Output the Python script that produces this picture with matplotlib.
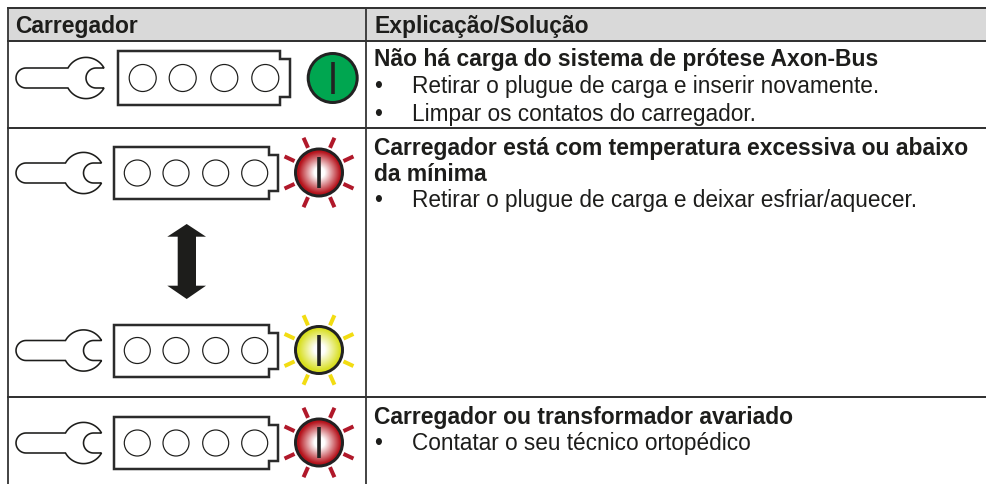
import numpy as np
import matplotlib
matplotlib.use("Agg")
import matplotlib.pyplot as plt
from matplotlib.patches import Circle, Polygon, Rectangle

plt.rcParams['font.family'] = ['Liberation Sans', 'DejaVu Sans']

headers = ["Carregador", "Explicação/Solução"]
bold_lines = [("Não há carga do sistema de prótese Axon-Bus", 57),
              ("Carregador está com temperatura excessiva ou abaixo", 146),
              ("da mínima", 172),
              ("Carregador ou transformador avariado", 415)]
bullet_lines = [("Retirar o plugue de carga e inserir novamente.", 84),
                ("Limpar os contatos do carregador.", 112),
                ("Retirar o plugue de carga e deixar esfriar/aquecer.", 198),
                ("Contatar o seu técnico ortopédico", 441)]
row_lines = [8, 40.5, 127.5, 397]
col_lines = [7.5, 366]

DARK = "#1d1d1b"
LINE = "#333333"
px = 0.72

fig = plt.figure(figsize=(9.87, 4.84), dpi=100, facecolor="white")
ax = fig.add_axes([0, 0, 1, 1])
ax.set_axis_off()

def wrench(cx, cy, left=16):
    t = np.radians(np.linspace(151, 29, 40))
    upper = np.c_[cx + 20.6*np.cos(t), cy - 20.6*np.sin(t)]
    t2 = np.radians(np.linspace(-29, -151, 40))
    lower = np.c_[cx + 20.6*np.cos(t2), cy - 20.6*np.sin(t2)]
    t3 = np.radians(np.linspace(90, 270, 24))
    jaw = np.c_[cx + 10 + 10*np.cos(t3), cy - 10*np.sin(t3)]
    t4 = np.radians(np.linspace(270, 90, 24))
    cap = np.c_[left + 10 + 10*np.cos(t4), cy - 10*np.sin(t4)]
    pts = np.vstack([upper, jaw, lower, cap])
    ax.add_patch(Polygon(pts, closed=True, fc="white", ec=DARK, lw=1.6*px, zorder=3))

def battery(x0, x1, xn, y0, y1, notch, centers, r):
    pts = [(x0, y0), (x1, y0), (x1, y0+notch), (xn, y0+notch),
           (xn, y1-notch), (x1, y1-notch), (x1, y1), (x0, y1)]
    ax.add_patch(Polygon(pts, closed=True, fc="white", ec="#2b2b2b", lw=2.5*px, zorder=3, joinstyle="miter"))
    cy = (y0 + y1)/2
    for c in centers:
        ax.add_patch(Circle((c, cy), r, fc="white", ec=DARK, lw=1.2*px, zorder=4))

def light(cx, cy, r, color, bar, rays=None):
    if rays:
        size = 200
        yy, xx = np.mgrid[-1:1:size*1j, -1:1:size*1j]
        d = np.clip(np.sqrt(xx**2 + yy**2), 0, 1)
        w = np.clip((d - 0.22)/0.68, 0, 1)[..., None]
        rgb = np.array(matplotlib.colors.to_rgb(color))
        img = (1 - w)*np.ones(3) + w*rgb
        im = ax.imshow(img, extent=(cx-r, cx+r, cy+r, cy-r), aspect="auto", zorder=4, interpolation="bilinear")
        im.set_clip_path(Circle((cx, cy), r, transform=ax.transData))
        ax.add_patch(Circle((cx, cy), r, fc="none", ec="#222222", lw=3*px, zorder=5))
        for a in [24, 65, 115, 156, -24, -65, -115, -156]:
            s, c = np.sin(np.radians(a)), np.cos(np.radians(a))
            ax.plot([cx + 27*s, cx + 38*s], [cy - 27*c, cy - 38*c], color=rays, lw=4*px,
                    solid_capstyle="butt", zorder=3)
    else:
        ax.add_patch(Circle((cx, cy), r, fc=color, ec="#222222", lw=3*px, zorder=5))
    ax.plot([cx, cx], [cy-bar, cy+bar], color="#222222", lw=3.6*px, solid_capstyle="butt", zorder=6)

# header band and rules
ax.add_patch(Rectangle((7.5, 8), 987-7.5, 32.5, fc="#d9d9d9", ec="none", zorder=0))
for y in row_lines:
    ax.plot([7, 987], [y, y], color=LINE, lw=2*px, zorder=1, solid_capstyle="butt")
for x in col_lines:
    ax.plot([x, x], [8, 484], color=LINE, lw=1.8*px, zorder=1, solid_capstyle="butt")

# text
BOLD = 16.5
BODY = 16.3
ax.text(15, 24.5, headers[0], fontsize=BOLD, fontweight="bold", color=DARK, va="center_baseline")
ax.text(374, 24.5, headers[1], fontsize=BOLD, fontweight="bold", color=DARK, va="center_baseline")
for s, y in bold_lines:
    ax.text(374, y, s, fontsize=BOLD, fontweight="bold", color=DARK, va="center_baseline")
for s, y in bullet_lines:
    ax.text(374, y, "•", fontsize=BODY, color=DARK, va="center_baseline")
    ax.text(412, y, s, fontsize=BODY, color=DARK, va="center_baseline")

# icons
wrench(86, 78)
battery(118, 280, 290, 51, 105, 8, [142.7, 182.7, 224.3, 265.3], 13.5)
light(332.7, 78, 24.5, "#00a650", 16)

RED = "#b5121b"
YEL = "#d8df20"
for off, col, ray in [(0, RED, "#b0182a"), (177.5, YEL, "#f2dc12"), (270, RED, "#b0182a")]:
    wrench(83.5, 173 + off)
    battery(114, 269, 278, 147 + off, 199 + off, 8, [137.3, 176, 215.7, 254.7], 13)
    light(319, 172.5 + off, 23.5, col, 15.5, rays=ray)

# double arrow
ax.add_patch(Polygon([(186.7, 224), (206, 236.7), (196, 236.7), (196, 285.7), (206, 285.7),
                      (186.7, 299), (167.3, 285.7), (177.7, 285.7), (177.7, 236.7), (167.3, 236.7)],
                     closed=True, fc=DARK, ec="none", zorder=3))

ax.set_xlim(0, 987)
ax.set_ylim(484, 0)
fig.savefig("out.png", dpi=100)
